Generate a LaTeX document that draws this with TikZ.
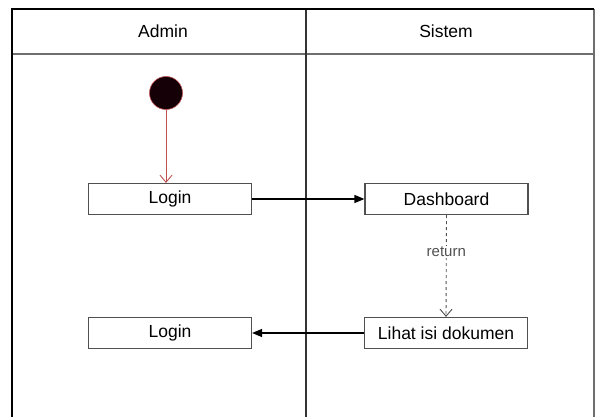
\documentclass[tikz,border=0pt]{standalone}
\usepackage{fontspec}
\setmainfont{Liberation Sans}
\usetikzlibrary{arrows.meta,calc}
\definecolor{lanegray}{RGB}{110,110,110}
\definecolor{boxgray}{RGB}{80,80,80}
\definecolor{startred}{RGB}{190,80,80}
\definecolor{startfill}{RGB}{22,0,8}
\begin{document}
\begin{tikzpicture}[x=1pt,y=-1pt,
  font=\fontsize{17.5}{20}\selectfont,
  action/.style={draw=boxgray,line width=1.2pt,fill=white,minimum width=163pt,minimum height=31pt,inner sep=0pt},
  flow/.style={line width=1.4pt,-{Triangle[length=10pt,width=8pt]}},
  retflow/.style={boxgray,line width=0.9pt,dashed,dash pattern=on 3pt off 3pt,-{Straight Barb[length=7pt,width=12pt]}},
  startflow/.style={startred,line width=0.9pt,-{Straight Barb[length=7pt,width=12pt]}}]
\useasboundingbox (0,0) rectangle (596,417);
\fill[white] (0,0) rectangle (596,417);

% swimlane frame
\draw[lanegray,line width=1.5pt] (12,54) -- (594,54);
\draw[lanegray,line width=1.2pt] (594,9) -- (594,417);
\draw[black!80,line width=1.4pt] (306,9) -- (306,417);
\draw[black,line width=2pt] (12,417) -- (12,9) -- (594,9);
\node (laneA) at (163,31) {Admin};
\node (laneS) at (446,31) {Sistem};

% initial state
\node[circle,draw=startred,fill=startfill,line width=0.6pt,minimum size=33pt,inner sep=0pt] (start) at (166,93) {};

% actions
\node[action] (login1) at (170,199) {Login};
\node[action] (dash) at (446.5,199) {Dashboard};
\node[action] (lihat) at (446,333) {Lihat isi dokumen};
\node[action] (login2) at (170,333) {Login};

% transitions
\draw[startflow] (start.south) -- (start.south |- login1.north);
\draw[flow] (login1.east) -- (dash.west);
\draw[retflow] (dash.south) -- node[pos=0.36,fill=white,inner sep=1pt,font=\fontsize{15}{17}\selectfont] (ret) {return} (lihat.north);
\draw[flow] (lihat.west) -- (login2.east);
\end{tikzpicture}
\end{document}
